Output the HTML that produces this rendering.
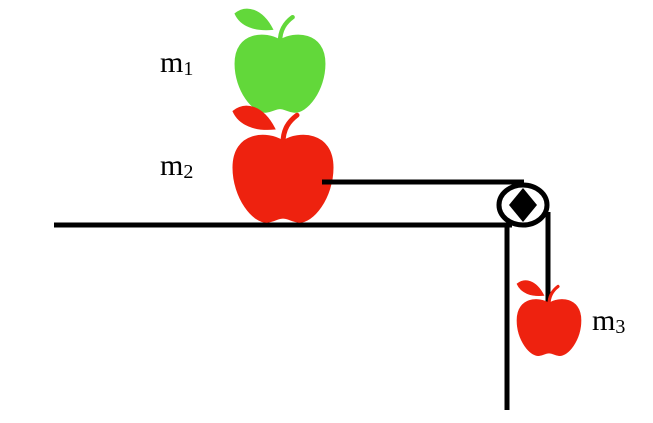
<!DOCTYPE html>
<html><head><meta charset="utf-8"><style>
html,body{margin:0;padding:0;background:#fff;width:653px;height:423px;overflow:hidden}
svg{display:block}
text{font-family:"Liberation Serif","DejaVu Serif",serif;fill:#000}
</style></head><body>
<svg width="653" height="423" viewBox="0 0 653 423">
<defs>
<g id="apple">
<path d="M50,8 C35,-2 0,-2 0,35 C0,65 20,92 35,90 C42,89 45,86 50,86 C55,86 58,89 65,90 C80,92 100,65 100,35 C100,-2 65,-2 50,8 Z"/>
<path d="M50,10 C50,-4 56,-12 64,-18" fill="none" stroke-width="5" stroke-linecap="round" style="stroke:inherit"/>
<path d="M0,-22 C12,-32 30,-28 42,-4 C22,-2 6,-8 0,-22 Z"/>
</g>
</defs>
<g>
<line x1="54" y1="225" x2="512" y2="225" stroke="#000" stroke-width="5"/>
<line x1="507" y1="225" x2="507" y2="410" stroke="#000" stroke-width="5"/>
</g>
<line x1="322" y1="182" x2="524" y2="182" stroke="#000" stroke-width="5"/>
<line x1="548" y1="212" x2="548" y2="305" stroke="#000" stroke-width="5"/>
<g>
<ellipse cx="523" cy="205" rx="24" ry="20" fill="#fff" stroke="#000" stroke-width="5"/>
<polygon points="523,188 537,205 523,222 509,205" fill="#000"/>
</g>
<g fill="#62d83a" stroke="#62d83a" transform="translate(235,33) scale(0.9,0.88)"><use href="#apple"/></g>
<g fill="#ee220f" stroke="#ee220f" transform="translate(233,133) scale(1,0.99)"><use href="#apple"/></g>
<line x1="322" y1="182" x2="340" y2="182" stroke="#000" stroke-width="5"/>
<g fill="#ee220f" stroke="#ee220f" transform="translate(517,298) scale(0.64,0.64)"><use href="#apple"/></g>
<text x="160" y="72" font-size="30">m<tspan font-size="20" dy="3">1</tspan></text>
<text x="160" y="175" font-size="30">m<tspan font-size="20" dy="3">2</tspan></text>
<text x="592" y="330" font-size="30">m<tspan font-size="20" dy="3">3</tspan></text>
</svg>
</body></html>
